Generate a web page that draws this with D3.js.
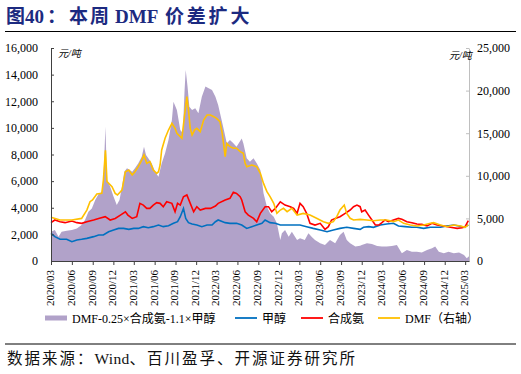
<!DOCTYPE html>
<html>
<head>
<meta charset="utf-8">
<script src="https://cdn.jsdelivr.net/npm/d3@7"></script>
<style>
  body { margin: 0; background: #fff; }
  text { font-family: "Liberation Serif", "Noto Sans CJK SC", serif; }
</style>
</head>
<body>
<svg id="chart" width="521" height="374"></svg>
<script>
// spread = DMF - 0.25 x ammonia - 1.1 x methanol (left axis, area)
const spread = [
  ["2020-03-01",2200],["2020-03-18",2330],["2020-04-03",1830],["2020-04-17",2200],["2020-05-09",2280],
  ["2020-06-01",2330],["2020-06-23",2450],["2020-07-14",2700],["2020-07-29",3080],["2020-08-13",3700],
  ["2020-08-28",3950],["2020-09-12",4580],["2020-09-27",5030],["2020-10-11",5210],["2020-10-18",6080],
  ["2020-10-27",10090],["2020-11-03",6080],["2020-11-17",5580],["2020-12-02",4830],["2020-12-16",4200],
  ["2020-12-28",4580],["2021-01-08",5580],["2021-01-18",6710],["2021-01-30",6960],["2021-02-11",6840],
  ["2021-02-22",6710],["2021-03-06",6960],["2021-03-21",7340],["2021-04-05",7840],["2021-04-15",8590],
  ["2021-04-24",7960],["2021-05-04",7710],["2021-05-19",7340],["2021-06-03",6710],["2021-06-18",6330],
  ["2021-07-02",7340],["2021-07-17",8090],["2021-08-01",9090],["2021-08-16",10590],["2021-08-23",11970],
  ["2021-09-07",11340],["2021-09-22",9840],["2021-10-03",9590],["2021-10-11",12850],["2021-10-16",14350],
  ["2021-10-24",13100],["2021-11-01",11590],["2021-11-13",11340],["2021-11-27",11470],["2021-12-11",11090],
  ["2021-12-26",12340],["2022-01-11",13100],["2022-01-25",12970],["2022-02-09",12850],["2022-02-24",12340],
  ["2022-03-08",11720],["2022-03-30",10090],["2022-04-15",8840],["2022-04-29",9090],["2022-05-14",8840],
  ["2022-05-28",8590],["2022-06-20",9210],["2022-06-27",8840],["2022-07-12",7710],["2022-07-26",7460],
  ["2022-08-11",7710],["2022-08-25",7340],["2022-09-10",6830],["2022-09-17",6080],["2022-09-24",5080],
  ["2022-10-09",4080],["2022-10-23",3580],["2022-11-08",3330],["2022-11-22",2830],["2022-12-07",1580],
  ["2022-12-14",2080],["2022-12-28",2330],["2023-01-13",1830],["2023-01-27",2200],["2023-02-19",1580],
  ["2023-03-04",1700],["2023-03-25",1580],["2023-04-10",2080],["2023-04-24",1830],["2023-05-09",1580],
  ["2023-06-01",1330],["2023-06-22",1200],["2023-07-14",1580],["2023-08-06",1330],["2023-08-27",1950],
  ["2023-09-12",2200],["2023-09-26",1580],["2023-10-11",1330],["2023-11-03",1080],["2023-11-24",1150],
  ["2023-12-01",1200],["2023-12-24",1330],["2024-01-15",1280],["2024-02-07",1130],["2024-02-28",1080],
  ["2024-03-20",1080],["2024-04-12",1130],["2024-05-04",1200],["2024-05-26",580],["2024-06-17",830],
  ["2024-07-09",700],["2024-07-31",700],["2024-08-22",630],["2024-09-14",830],["2024-10-06",950],
  ["2024-10-20",1080],["2024-11-05",700],["2024-11-27",580],["2024-12-18",700],["2025-01-10",580],
  ["2025-02-02",630],["2025-02-24",450],["2025-03-08",200],["2025-03-18",350]
];

// 甲醇 (left axis)
const methanol = [
  ["2020-03-01",2080],["2020-03-18",1830],["2020-04-10",1630],["2020-05-09",1630],["2020-06-01",1450],
  ["2020-06-23",1580],["2020-07-14",1630],["2020-08-06",1700],["2020-09-05",1830],["2020-09-27",1950],
  ["2020-10-18",1950],["2020-11-10",2200],["2020-12-02",2330],["2020-12-24",2450],["2021-01-15",2450],
  ["2021-02-07",2380],["2021-03-01",2450],["2021-03-21",2450],["2021-04-12",2580],["2021-05-04",2500],
  ["2021-05-26",2580],["2021-06-18",2700],["2021-07-09",2580],["2021-08-01",2650],["2021-08-23",2830],
  ["2021-09-10",2950],["2021-09-22",3330],["2021-10-06",3950],["2021-10-16",3200],["2021-10-28",2880],
  ["2021-11-13",2780],["2021-12-04",2700],["2021-12-26",2580],["2022-01-18",2700],["2022-02-09",2700],
  ["2022-02-24",2950],["2022-03-08",3080],["2022-04-08",2880],["2022-04-29",2830],["2022-05-28",2830],
  ["2022-06-20",2700],["2022-07-12",2450],["2022-08-03",2580],["2022-08-25",2700],["2022-09-17",2830],
  ["2022-10-01",3080],["2022-10-23",2880],["2022-11-15",2830],["2022-12-07",2700],["2023-01-06",2700],
  ["2023-02-04",2700],["2023-03-04",2700],["2023-04-02",2580],["2023-05-01",2450],["2023-06-01",2330],
  ["2023-07-01",2200],["2023-07-29",2330],["2023-08-27",2450],["2023-09-26",2530],["2023-10-26",2450],
  ["2023-11-24",2380],["2023-12-09",2530],["2024-01-01",2580],["2024-01-22",2530],["2024-02-21",2700],
  ["2024-03-20",2780],["2024-04-19",2830],["2024-05-11",2630],["2024-06-10",2580],["2024-07-09",2530],
  ["2024-07-31",2530],["2024-08-30",2450],["2024-09-29",2530],["2024-10-20",2530],["2024-11-12",2530],
  ["2024-12-11",2630],["2025-01-10",2700],["2025-02-02",2630],["2025-02-24",2530],["2025-03-15",2700]
];

// 合成氨 (left axis)
const ammonia = [
  ["2020-03-01",2880],["2020-03-18",3080],["2020-04-10",2950],["2020-05-02",2880],["2020-06-01",3000],
  ["2020-06-23",2880],["2020-07-14",2830],["2020-08-06",2950],["2020-09-05",3080],["2020-09-27",3200],
  ["2020-10-26",3330],["2020-11-17",3080],["2020-12-09",3200],["2021-01-01",3450],["2021-01-23",3700],
  ["2021-02-03",3450],["2021-02-22",3200],["2021-03-14",3330],["2021-03-28",4330],["2021-04-12",4200],
  ["2021-04-27",3950],["2021-05-11",3950],["2021-05-26",4200],["2021-06-10",4380],["2021-06-25",4330],
  ["2021-07-09",4080],["2021-07-24",4450],["2021-08-16",4330],["2021-08-30",3700],["2021-09-10",4330],
  ["2021-09-22",4200],["2021-10-06",4830],["2021-10-21",4960],["2021-11-05",4330],["2021-11-20",3700],
  ["2021-12-04",4080],["2021-12-19",3830],["2022-01-11",3950],["2022-02-02",3950],["2022-02-24",4130],
  ["2022-03-08",4330],["2022-04-08",4580],["2022-04-29",4710],["2022-05-14",5160],["2022-05-28",5080],
  ["2022-06-13",4830],["2022-06-20",4580],["2022-07-05",3700],["2022-07-19",3450],["2022-08-11",3200],
  ["2022-08-25",2950],["2022-09-10",3580],["2022-10-01",4080],["2022-10-16",4080],["2022-10-30",3700],
  ["2022-11-15",3950],["2022-12-07",4450],["2022-12-28",4200],["2023-01-20",4080],["2023-02-04",3950],
  ["2023-02-19",3580],["2023-03-04",4330],["2023-03-18",4080],["2023-04-02",3580],["2023-04-17",2830],
  ["2023-05-09",2700],["2023-06-01",2830],["2023-06-22",2380],["2023-07-07",2580],["2023-07-21",3080],
  ["2023-08-06",3200],["2023-08-27",3330],["2023-09-19",3580],["2023-10-11",3830],["2023-10-26",4080],
  ["2023-11-10",4200],["2023-11-24",4080],["2023-12-01",3700],["2023-12-16",3830],["2023-12-31",3450],
  ["2024-01-15",3080],["2024-01-30",2700],["2024-02-14",2700],["2024-02-28",2880],["2024-03-13",3080],
  ["2024-03-28",2950],["2024-04-19",3080],["2024-05-11",3200],["2024-05-26",3130],["2024-06-17",2950],
  ["2024-07-09",2880],["2024-07-31",2780],["2024-08-22",2750],["2024-09-14",2630],["2024-10-06",2830],
  ["2024-10-28",2700],["2024-11-27",2630],["2024-12-26",2530],["2025-01-25",2450],["2025-02-16",2500],
  ["2025-03-01",2580],["2025-03-15",3030]
];

// DMF (right axis)
const dmf = [
  ["2020-03-01",5130],["2020-04-10",4810],["2020-06-01",4810],["2020-07-14",5000],["2020-08-06",5980],
  ["2020-08-20",6960],["2020-08-31",7160],["2020-09-19",7860],["2020-10-11",7940],["2020-10-18",9500],
  ["2020-10-27",13000],["2020-11-03",9310],["2020-11-25",8720],["2020-12-09",7940],["2020-12-19",7750],
  ["2021-01-08",8330],["2021-01-23",10480],["2021-02-07",10680],["2021-02-22",10090],["2021-03-06",10480],
  ["2021-03-21",11070],["2021-04-05",11850],["2021-04-15",12440],["2021-04-27",11460],["2021-05-11",11660],
  ["2021-05-26",10680],["2021-06-10",10290],["2021-06-18",10480],["2021-06-25",11270],["2021-07-02",13030],
  ["2021-07-17",14400],["2021-08-01",15370],["2021-08-16",16160],["2021-08-30",15570],["2021-09-07",14980],
  ["2021-09-22",14590],["2021-09-29",14400],["2021-10-11",17130],["2021-10-21",19290],["2021-10-28",17720],
  ["2021-11-05",15570],["2021-11-13",14790],["2021-11-24",15370],["2021-12-04",15570],["2021-12-19",15180],
  ["2022-01-03",16550],["2022-01-18",17130],["2022-02-02",17130],["2022-02-17",16940],["2022-03-01",16740],
  ["2022-03-16",16360],["2022-03-26",14980],["2022-04-08",12250],["2022-04-15",13800],["2022-04-29",13420],
  ["2022-05-14",13230],["2022-05-28",13230],["2022-06-13",12840],["2022-06-27",12640],["2022-07-05",11460],
  ["2022-07-12",11070],["2022-08-03",11270],["2022-08-25",11070],["2022-09-10",10290],["2022-09-24",9110],
  ["2022-10-09",8140],["2022-10-23",7550],["2022-11-08",6770],["2022-11-22",5590],["2022-12-07",5980],
  ["2022-12-21",6180],["2023-01-06",5790],["2023-01-27",6180],["2023-02-19",5400],["2023-03-18",5590],
  ["2023-04-17",5400],["2023-05-16",5010],["2023-06-15",4620],["2023-07-07",4420],["2023-07-29",4620],
  ["2023-08-13",5200],["2023-08-27",5980],["2023-09-15",6570],["2023-09-26",5590],["2023-10-11",5010],
  ["2023-10-26",4810],["2023-11-24",4890],["2023-12-24",4810],["2024-01-22",4730],["2024-02-21",4810],
  ["2024-03-20",4810],["2024-04-19",4620],["2024-05-11",4810],["2024-06-03",4420],["2024-07-02",4230],
  ["2024-08-01",4110],["2024-08-30",4230],["2024-09-29",4420],["2024-10-13",4500],["2024-11-12",4230],
  ["2024-12-11",4030],["2025-01-10",4230],["2025-02-09",4110],["2025-03-01",3950],["2025-03-15",4230]
];

const xTickLabels = [
  "2020/03","2020/06","2020/09","2020/12","2021/03","2021/06","2021/09","2021/12",
  "2022/03","2022/06","2022/09","2022/12","2023/03","2023/06","2023/09","2023/12",
  "2024/03","2024/06","2024/09","2024/12","2025/03"
];
const leftTicks = [0, 2000, 4000, 6000, 8000, 10000, 12000, 14000, 16000];
const rightTicks = [0, 5000, 10000, 15000, 20000, 25000];
const legendItems = [
  { label: "DMF-0.25×合成氨-1.1×甲醇", type: "area", color: "#B1A2C9" },
  { label: "甲醇", type: "line", color: "#0070C0" },
  { label: "合成氨", type: "line", color: "#FF0000" },
  { label: "DMF（右轴）", type: "line", color: "#FFC000" }
];

const parse = d3.timeParse("%Y-%m-%d");
const parseTick = d3.timeParse("%Y/%m");
const svg = d3.select("#chart");

const plot = { left: 51, right: 469, top: 48, bottom: 261 };

const x = d3.scaleTime()
  .domain([parse("2020-03-01"), parse("2025-03-18")])
  .range([plot.left, plot.right]);
const yL = d3.scaleLinear().domain([0, 16000]).range([plot.bottom, plot.top]);
const yR = d3.scaleLinear().domain([0, 25000]).range([plot.bottom, plot.top]);

/* ---------- title ---------- */
const title = svg.append("text")
  .attr("y", 22.5)
  .attr("font-size", 19).attr("font-weight", "bold")
  .attr("fill", "#1C2A80");
title.append("tspan").attr("x", 6).text("图");
title.append("tspan").attr("x", 25).text("40");
title.append("tspan").attr("x", 47).text("：");
title.append("tspan").attr("x", 69).attr("letter-spacing", 2).text("本周");
title.append("tspan").attr("x", 115).text("DMF");
title.append("tspan").attr("x", 165).attr("letter-spacing", 2.8).text("价差扩大");

svg.append("line")
  .attr("x1", 5).attr("x2", 516).attr("y1", 31.5).attr("y2", 31.5)
  .attr("stroke", "#000").attr("stroke-width", 1.2);

/* ---------- series ---------- */
const area = d3.area()
  .x(d => x(parse(d[0])))
  .y0(yL(0))
  .y1(d => yL(d[1]));

svg.append("path")
  .datum(spread)
  .attr("d", area)
  .attr("fill", legendItems[0].color);

const lineL = d3.line().x(d => x(parse(d[0]))).y(d => yL(d[1]));
const lineR = d3.line().x(d => x(parse(d[0]))).y(d => yR(d[1]));

svg.append("path").datum(methanol).attr("d", lineL)
  .attr("fill", "none").attr("stroke", legendItems[1].color).attr("stroke-width", 1.6);
svg.append("path").datum(ammonia).attr("d", lineL)
  .attr("fill", "none").attr("stroke", legendItems[2].color).attr("stroke-width", 1.6);
svg.append("path").datum(dmf).attr("d", lineR)
  .attr("fill", "none").attr("stroke", legendItems[3].color).attr("stroke-width", 1.6);

/* ---------- axes ---------- */
const fmt = d3.format(",");

const gL = svg.append("g")
  .attr("transform", `translate(${plot.left},0)`)
  .call(d3.axisLeft(yL).tickValues(leftTicks).tickFormat(fmt)
    .tickSize(-3).tickSizeOuter(0).tickPadding(13));
gL.selectAll("path, line").attr("stroke", "#404040");
gL.selectAll("text").attr("font-size", 12).attr("fill", "#000")
  .style("font-family", '"Liberation Serif", serif');

const gR = svg.append("g")
  .attr("transform", `translate(${plot.right},0)`)
  .call(d3.axisRight(yR).tickValues(rightTicks).tickFormat(fmt)
    .tickSize(-3).tickSizeOuter(0).tickPadding(8));
gR.selectAll("path, line").attr("stroke", "#BFBFBF");
gR.selectAll("text").attr("font-size", 12).attr("fill", "#000")
  .style("font-family", '"Liberation Serif", serif');

const gX = svg.append("g")
  .attr("transform", `translate(0,${plot.bottom})`)
  .call(d3.axisBottom(x)
    .tickValues(xTickLabels.map(parseTick))
    .tickFormat(d3.timeFormat("%Y/%m"))
    .tickSize(4).tickSizeOuter(0));
gX.selectAll("path, line").attr("stroke", "#404040");
gX.selectAll("text")
  .attr("font-size", 11).attr("fill", "#000")
  .style("font-family", '"Liberation Serif", serif')
  .attr("transform", "rotate(-90)")
  .attr("text-anchor", "end")
  .attr("x", -9).attr("y", -1.5).attr("dy", "0.35em");

// unit labels
svg.append("text").attr("x", 58).attr("y", 57).attr("font-size", 10)
  .attr("font-style", "italic").text("元/吨");
svg.append("text").attr("x", 449).attr("y", 59).attr("font-size", 10)
  .attr("font-style", "italic").text("元/吨");

/* ---------- legend ---------- */
const legendX = [45, 235, 301, 378];
const lg = svg.append("g");
legendItems.forEach((d, i) => {
  const g = lg.append("g").attr("transform", `translate(${legendX[i]},318)`);
  if (d.type === "area") {
    g.append("rect").attr("x", 0).attr("y", -2.5).attr("width", 22).attr("height", 5)
      .attr("fill", d.color);
  } else {
    g.append("line").attr("x1", 0).attr("x2", 22).attr("y1", 0).attr("y2", 0)
      .attr("stroke", d.color).attr("stroke-width", 1.8);
  }
  g.append("text").attr("x", 27).attr("y", 4.5).attr("font-size", 12).text(d.label);
});

/* ---------- source ---------- */
svg.append("line")
  .attr("x1", 5).attr("x2", 516).attr("y1", 344).attr("y2", 344)
  .attr("stroke", "#000").attr("stroke-width", 1);
const src = svg.append("text").attr("x", 7).attr("y", 364).attr("font-size", 15.5)
  .attr("fill", "#111");
src.append("tspan").attr("letter-spacing", 2).text("数据来源：");
src.append("tspan").attr("letter-spacing", 0.3).text("Wind");
src.append("tspan").attr("letter-spacing", 2).text("、百川盈孚、开源证券研究所");
</script>
</body>
</html>
